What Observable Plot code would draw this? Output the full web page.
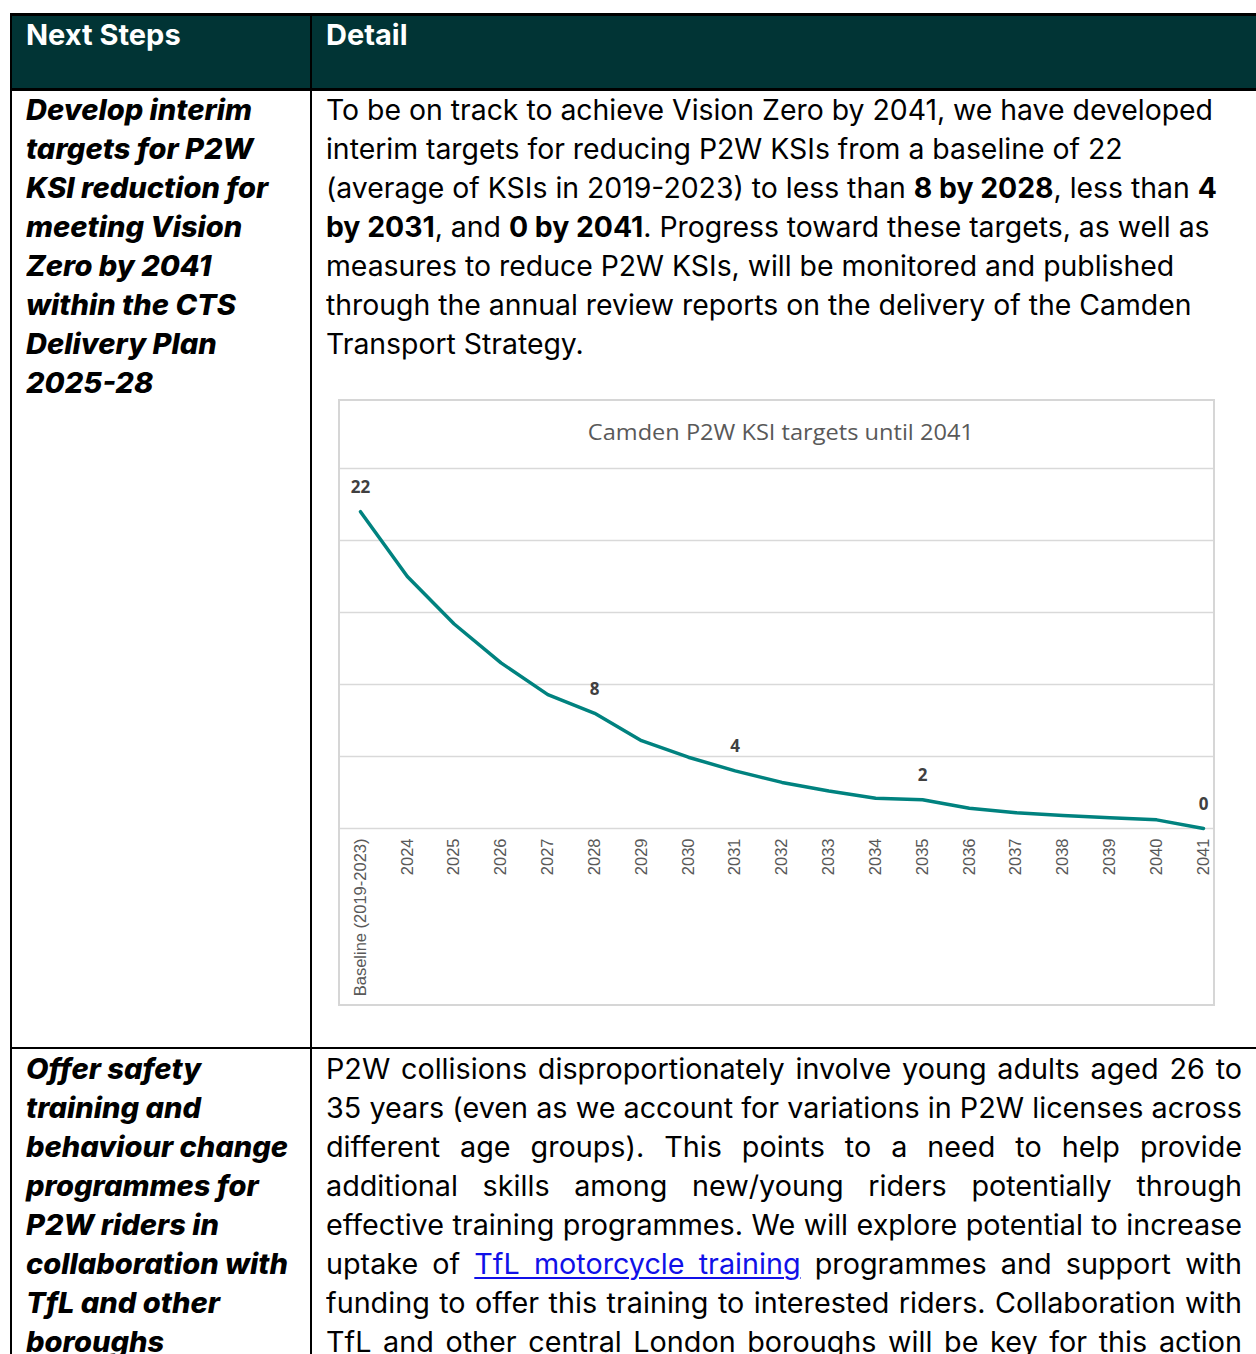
<!DOCTYPE html>
<html>
<head>
<meta charset="utf-8">
<script src="https://cdn.jsdelivr.net/npm/d3@7"></script>
<script src="https://cdn.jsdelivr.net/npm/@observablehq/plot@0.6"></script>
<style>
  html, body { margin: 0; padding: 0; background: #fff; }
  #page { position: relative; width: 1256px; height: 1354px; overflow: hidden;
          font-family: Inter, "Noto Sans", sans-serif; color: #000; }
  .rule { position: absolute; background: #000; }
  .header { position: absolute; left: 11px; top: 15px; width: 1300px; height: 74px; background: #013435; }
  .hdr { position: absolute; top: 15px; color: #fff; font-weight: 700; font-size: 29px; line-height: 39.1px; white-space: nowrap; }
  .block { position: absolute; width: 2000px; transform-origin: 0 0; }
  .block .ln { white-space: nowrap; line-height: 39.1px; height: 39.1px; }
  .body { font-size: 28px; font-weight: 400; }
  .step { font-size: 28px; font-weight: 800; font-style: italic; }
  .block.justify .ln { white-space: normal; text-align: justify; text-align-last: justify; }
  .block.justify .ln > span { display: inline; }
  a.link { color: #1010e8; text-decoration: underline; text-decoration-thickness: 1.5px; text-underline-offset: 3px; }
  #frame { position: absolute; left: 338px; top: 399px; width: 877px; height: 607px;
           box-sizing: border-box; border: 2px solid #d6d6d6; background: #fff; }
  #title { position: absolute; left: 8px; right: 0; top: 17px; text-align: center;
           font-family: "Open Sans", sans-serif; font-size: 21px; color: #595959; white-space: nowrap; }
  #title span { display: inline-block; transform-origin: 50% 50%; }
  #chart { position: absolute; left: 0; top: 63px; }
</style>
</head>
<body>
<div id="page">
  <div class="header"></div>
  <div class="hdr" style="left:26px">Next Steps</div>
  <div class="hdr" style="left:326px">Detail</div>

  <!-- table rules -->
  <div class="rule" style="left:10px; top:13px; width:1300px; height:2.5px"></div>
  <div class="rule" style="left:10px; top:88px; width:1300px; height:2.5px"></div>
  <div class="rule" style="left:10px; top:1047px; width:1300px; height:2px"></div>
  <div class="rule" style="left:10px; top:13px; width:2px; height:1400px"></div>
  <div class="rule" style="left:310px; top:13px; width:2px; height:1400px"></div>

  <!-- row 1 -->
  <div id="step1" class="block step" style="left:26px; top:90.8px">
    <div class="ln"><span>Develop interim</span></div>
    <div class="ln"><span>targets for P2W</span></div>
    <div class="ln"><span>KSI reduction for</span></div>
    <div class="ln"><span>meeting Vision</span></div>
    <div class="ln"><span>Zero by 2041</span></div>
    <div class="ln"><span>within the CTS</span></div>
    <div class="ln"><span>Delivery Plan</span></div>
    <div class="ln"><span>2025-28</span></div>
  </div>
  <div id="detail1" class="block body" style="left:326px; top:90.8px">
    <div class="ln"><span>To be on track to achieve Vision Zero by 2041, we have developed</span></div>
    <div class="ln"><span>interim targets for reducing P2W KSIs from a baseline of 22</span></div>
    <div class="ln"><span>(average of KSIs in 2019-2023) to less than <b>8 by 2028</b>, less than <b>4</b></span></div>
    <div class="ln"><span><b>by 2031</b>, and <b>0 by 2041</b>. Progress toward these targets, as well as</span></div>
    <div class="ln"><span>measures to reduce P2W KSIs, will be monitored and published</span></div>
    <div class="ln"><span>through the annual review reports on the delivery of the Camden</span></div>
    <div class="ln"><span>Transport Strategy.</span></div>
  </div>

  <!-- chart panel -->
  <div id="frame">
    <div id="title"><span>Camden P2W KSI targets until 2041</span></div>
    <div id="chart"></div>
  </div>

  <!-- row 2 -->
  <div id="step2" class="block step" style="left:26px; top:1049.8px">
    <div class="ln"><span>Offer safety</span></div>
    <div class="ln"><span>training and</span></div>
    <div class="ln"><span>behaviour change</span></div>
    <div class="ln"><span>programmes for</span></div>
    <div class="ln"><span>P2W riders in</span></div>
    <div class="ln"><span>collaboration with</span></div>
    <div class="ln"><span>TfL and other</span></div>
    <div class="ln"><span>boroughs</span></div>
  </div>
  <div id="detail2" class="block body" style="left:326px; top:1049.8px">
    <div class="ln"><span>P2W collisions disproportionately involve young adults aged 26 to</span></div>
    <div class="ln"><span>35 years (even as we account for variations in P2W licenses across</span></div>
    <div class="ln"><span>different age groups). This points to a need to help provide</span></div>
    <div class="ln"><span>additional skills among new/young riders potentially through</span></div>
    <div class="ln"><span>effective training programmes. We will explore potential to increase</span></div>
    <div class="ln"><span>uptake of <a class="link" href="#">TfL motorcycle training</a> programmes and support with</span></div>
    <div class="ln"><span>funding to offer this training to interested riders. Collaboration with</span></div>
    <div class="ln"><span>TfL and other central London boroughs will be key for this action</span></div>
  </div>
</div>

<script>
// Reporting periods along the x axis
const periods = ["Baseline (2019-2023)", "2024", "2025", "2026", "2027", "2028", "2029", "2030",
  "2031", "2032", "2033", "2034", "2035", "2036", "2037", "2038", "2039", "2040", "2041"];

// Target number of P2W KSIs for each period
const ksiTargets = [22, 17.5, 14.2, 11.5, 9.3, 8, 6.1, 4.95, 4, 3.2, 2.6, 2.1, 2, 1.4, 1.1, 0.9, 0.75, 0.6, 0];

// Periods carrying a data label
const labelledPeriods = ["Baseline (2019-2023)", "2028", "2031", "2035", "2041"];

// Horizontal gridline values
const gridValues = [0, 5, 10, 15, 20, 25];

const rows = periods.map((period, i) => ({period, ksi: ksiTargets[i]}));
const labelled = rows.filter(d => labelledPeriods.includes(d.period));

const chart = Plot.plot({
  width: 873,
  height: 540,
  marginTop: 4,
  marginBottom: 176,
  marginLeft: 0,
  marginRight: 0,
  style: {background: "transparent", color: "#595959", fontFamily: "'Liberation Sans', Arial, sans-serif", overflow: "visible"},
  x: {type: "point", domain: periods, padding: 0, round: false, insetLeft: 20, insetRight: 10, label: null},
  y: {domain: [0, 25], axis: null},
  marks: [
    Plot.ruleY(gridValues, {stroke: "#d9d9d9", strokeWidth: 1.5}),
    Plot.axisX({tickSize: 0, tickPadding: 10, tickRotate: -90, fontSize: 16.5, fill: "#595959", label: null}),
    Plot.line(rows, {x: "period", y: "ksi", stroke: "#00827f", strokeWidth: 3.5,
                     strokeLinejoin: "round", strokeLinecap: "round"}),
    Plot.text(labelled, {x: "period", y: "ksi", text: d => String(d.ksi), dy: -24,
                         fontSize: 17, fontWeight: 700, fill: "#404040",
                         fontFamily: "'Open Sans', sans-serif"})
  ]
});
document.getElementById("chart").appendChild(chart);

// Scale each text block horizontally so its reference line spans the column width.
function lineWidths(block) {
  return [...block.querySelectorAll(".ln > span")].map(s => s.getBoundingClientRect().width);
}
function fitBlock(block, scale) {
  block.style.transform = `scaleX(${scale})`;
}
function layoutText() {
  const d1 = document.getElementById("detail1");
  fitBlock(d1, 887 / lineWidths(d1)[0]);

  const d2 = document.getElementById("detail2");
  const w2 = Math.max(...lineWidths(d2)) + 1;
  d2.style.width = w2 + "px";
  d2.classList.add("justify");
  fitBlock(d2, 916 / w2);

  const s2 = document.getElementById("step2");
  const sStep = 262 / lineWidths(s2)[5];
  fitBlock(s2, sStep);
  fitBlock(document.getElementById("step1"), sStep);

  const t = document.querySelector("#title span");
  t.style.transform = `scaleX(${386 / t.getBoundingClientRect().width})`;
}
(document.fonts ? document.fonts.ready : Promise.resolve()).then(layoutText);
</script>
</body>
</html>
